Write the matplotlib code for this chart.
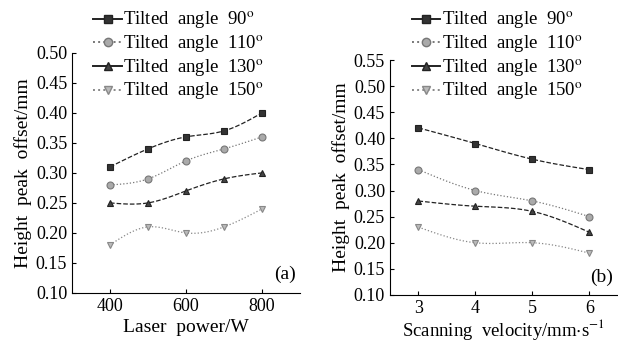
import numpy as np
import matplotlib
matplotlib.use("Agg")
import matplotlib.pyplot as plt

plt.rcParams['font.family'] = ['Liberation Serif', 'DejaVu Serif']
plt.rcParams['mathtext.fontset'] = 'stix'

# (a) laser power
power = [400, 500, 600, 700, 800]
a_90 = [0.31, 0.34, 0.36, 0.37, 0.40]
a_110 = [0.28, 0.29, 0.32, 0.34, 0.36]
a_130 = [0.25, 0.25, 0.27, 0.29, 0.30]
a_150 = [0.18, 0.21, 0.20, 0.21, 0.24]

# (b) scanning velocity
velocity = [3, 4, 5, 6]
b_90 = [0.42, 0.39, 0.36, 0.34]
b_110 = [0.34, 0.30, 0.28, 0.25]
b_130 = [0.28, 0.27, 0.26, 0.22]
b_150 = [0.23, 0.20, 0.20, 0.18]

labels = ["Tilted  angle  90$^{\\mathrm{o}}$", "Tilted  angle  110$^{\\mathrm{o}}$",
          "Tilted  angle  130$^{\\mathrm{o}}$", "Tilted  angle  150$^{\\mathrm{o}}$"]
styles = [dict(color="#222222", marker="s", ls="--", mfc="#333333"),
          dict(color="#777777", marker="o", ls=":", mfc="#aaaaaa"),
          dict(color="#222222", marker="^", ls="--", mfc="#444444"),
          dict(color="#888888", marker="v", ls=":", mfc="#bbbbbb")]


def smooth(x, y, n=100):
    # natural cubic spline through the points, for drawing only
    x = np.asarray(x, float); y = np.asarray(y, float)
    k = len(x); h = np.diff(x)
    A = np.zeros((k, k)); r = np.zeros(k)
    A[0, 0] = A[-1, -1] = 1
    for i in range(1, k - 1):
        A[i, i - 1] = h[i - 1]; A[i, i] = 2 * (h[i - 1] + h[i]); A[i, i + 1] = h[i]
        r[i] = 6 * ((y[i + 1] - y[i]) / h[i] - (y[i] - y[i - 1]) / h[i - 1])
    m = np.linalg.solve(A, r)
    xs = np.linspace(x[0], x[-1], n)
    j = np.clip(np.searchsorted(x, xs) - 1, 0, k - 2)
    t = xs - x[j]; hj = h[j]
    ys = (m[j] * (x[j + 1] - xs) ** 3 / (6 * hj) + m[j + 1] * t ** 3 / (6 * hj)
          + (y[j] / hj - m[j] * hj / 6) * (x[j + 1] - xs) + (y[j + 1] / hj - m[j + 1] * hj / 6) * t)
    return xs, ys


def panel(ax, x, series, tag):
    handles = []
    for ys, st, lab in zip(series, styles, labels):
        sx, sy = smooth(x, ys)
        ax.plot(sx, sy, color=st["color"], ls=st["ls"], lw=0.9)
        ax.plot(x, ys, ls="none", marker=st["marker"], ms=5, mfc=st["mfc"],
                mec=st["color"], mew=0.8)
        h, = ax.plot([], [], color=st["color"], ls="-" if st["ls"] == "--" else ":",
                     lw=1.4, marker=st["marker"], ms=6, mfc=st["mfc"], mec=st["color"])
        handles.append(h)
    ax.spines["top"].set_visible(False)
    ax.spines["right"].set_visible(False)
    ax.tick_params(direction="in", labelsize=13, length=3)
    ax.text(0.98, 0.04, tag, transform=ax.transAxes, ha="right", va="bottom", fontsize=14)
    ax.set_ylabel("Height  peak  offset/mm", fontsize=14, labelpad=3)
    return handles


fig = plt.figure(figsize=(6.18, 3.41), dpi=100)
ax1 = fig.add_axes([0.1165, 0.141, 0.369, 0.704])
ax2 = fig.add_axes([0.631, 0.135, 0.369, 0.689])

leg_kw = dict(loc="upper left", frameon=False, fontsize=13.5, handlelength=1.5,
              handletextpad=0.1, labelspacing=0.12, borderpad=0.2)

h1 = panel(ax1, power, [a_90, a_110, a_130, a_150], "(a)")
ax1.set_xlim(300, 900)
ax1.set_ylim(0.10, 0.50)
ax1.set_xticks([400, 600, 800])
ax1.set_yticks(np.arange(0.10, 0.501, 0.05))
ax1.yaxis.set_major_formatter(matplotlib.ticker.FormatStrFormatter("%.2f"))
ax1.set_xlabel("Laser  power/W", fontsize=14, labelpad=3)
fig.legend(h1, labels, bbox_to_anchor=(0.13, 1.01), **leg_kw)

h2 = panel(ax2, velocity, [b_90, b_110, b_130, b_150], "(b)")
ax2.set_xlim(2.5, 6.5)
ax2.set_ylim(0.10, 0.55)
ax2.set_xticks([3, 4, 5, 6])
ax2.set_yticks(np.arange(0.10, 0.551, 0.05))
ax2.yaxis.set_major_formatter(matplotlib.ticker.FormatStrFormatter("%.2f"))
ax2.set_xlabel("Scanning  velocity/mm$\\cdot$s$^{-1}$", fontsize=13.5, labelpad=0)
fig.legend(h2, labels, bbox_to_anchor=(0.645, 1.01), **leg_kw)

fig.savefig("out.png", dpi=100)
